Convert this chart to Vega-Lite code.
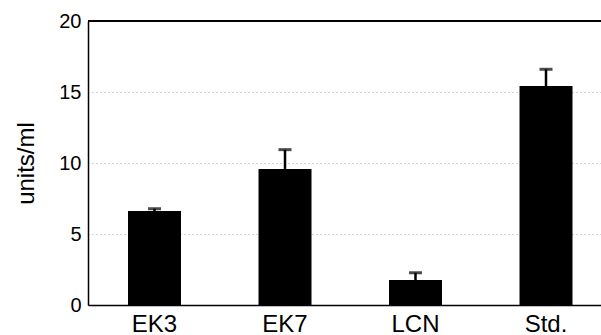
{
  "$schema": "https://vega.github.io/schema/vega-lite/v6.json",
  "autosize": "none",
  "padding": {"left": 88, "top": 21, "right": 0, "bottom": 30},
  "width": 513,
  "height": 284,
  "background": "white",
  "config": {
    "font": "Liberation Sans",
    "view": {"stroke": null},
    "axis": {"labelColor": "black", "titleColor": "black", "domain": true, "domainColor": "black", "domainWidth": 1.5, "ticks": false}
  },
  "data": {
    "values": [
      {"group": "EK3", "value": 6.62, "upper": 6.78},
      {"group": "EK7", "value": 9.58, "upper": 10.94},
      {"group": "LCN", "value": 1.76, "upper": 2.27},
      {"group": "Std.", "value": 15.42, "upper": 16.6}
    ]
  },
  "layer": [
    {
      "mark": {"type": "bar", "color": "black"},
      "encoding": {
        "x": {
          "field": "group",
          "type": "nominal",
          "sort": null,
          "scale": {"paddingInner": 0.594, "paddingOuter": 0.2625, "align": 0.584},
          "axis": {"title": null, "labelAngle": 0, "labelFontSize": 24, "labelPadding": 7, "grid": false}
        },
        "y": {
          "field": "value",
          "type": "quantitative",
          "scale": {"domain": [0, 20], "nice": false},
          "axis": {
            "title": "units/ml",
            "titleFontSize": 24,
            "titleFontWeight": "normal",
            "titlePadding": 20,
            "labelFontSize": 20,
            "labelPadding": 7,
            "values": [0, 5, 10, 15, 20],
            "grid": true,
            "gridColor": "#aaaaaa",
            "gridDash": [1, 3],
            "gridWidth": 1
          }
        }
      }
    },
    {
      "mark": {"type": "rule", "color": "black", "strokeWidth": 2.5},
      "encoding": {
        "x": {"field": "group", "type": "nominal", "sort": null},
        "y": {"field": "value", "type": "quantitative"},
        "y2": {"field": "upper"}
      }
    },
    {
      "mark": {"type": "tick", "color": "black", "size": 13, "thickness": 3},
      "encoding": {
        "x": {"field": "group", "type": "nominal", "sort": null},
        "y": {"field": "upper", "type": "quantitative"}
      }
    },
    {
      "mark": {"type": "rule", "color": "black", "strokeWidth": 1.5},
      "encoding": {
        "y": {"datum": 20}
      }
    }
  ]
}
